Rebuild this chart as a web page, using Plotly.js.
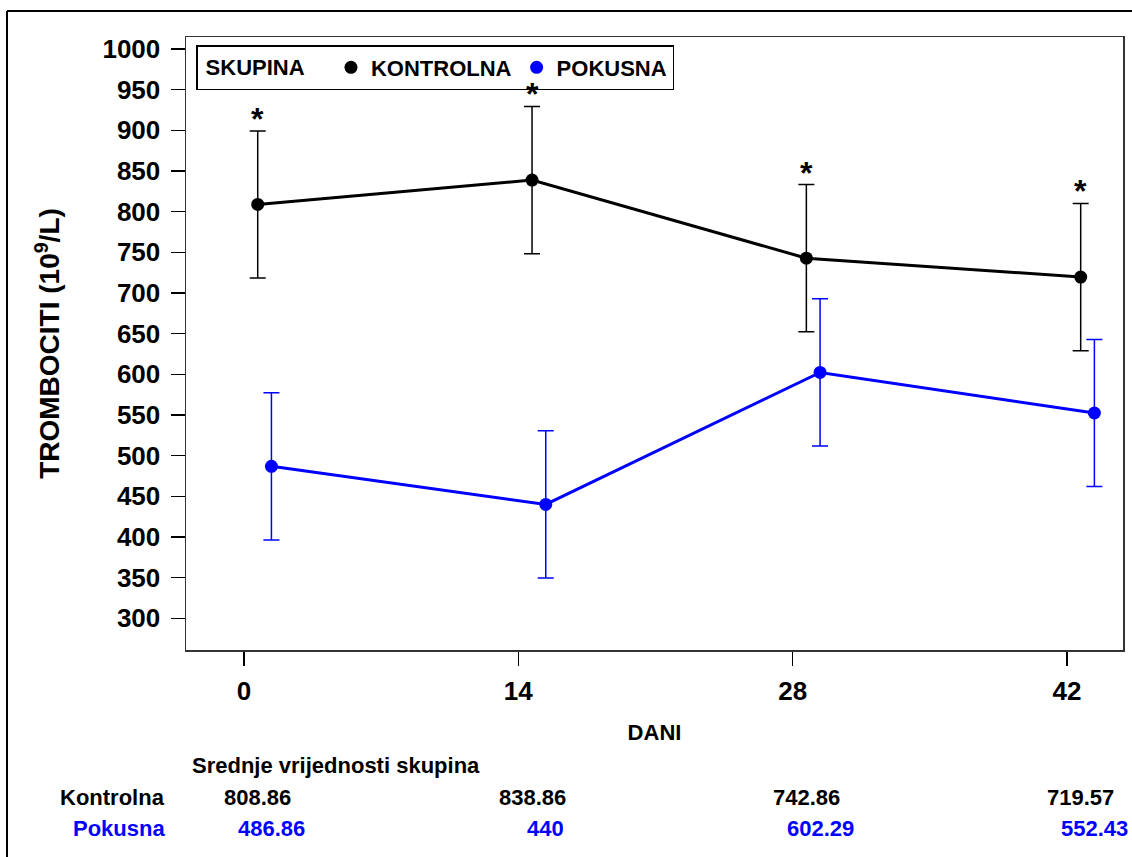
<!DOCTYPE html>
<html>
<head>
<meta charset="utf-8">
<script src="https://cdn.plot.ly/plotly-3.0.1.min.js"></script>
<style>
  html, body { margin: 0; padding: 0; background: #fff; }
  #chart { width: 1132px; height: 857px; }
</style>
</head>
<body>
<div id="chart"></div>
<script>
// ---- data ----
const days = [0, 14, 28, 42];
const dayTicks = ['0', '14', '28', '42'];
const kontrolnaMean = [808.86, 838.86, 742.86, 719.57];
const pokusnaMean = [486.86, 440, 602.29, 552.43];
const kontrolnaErr = [90.5, 90.5, 90.5, 90.5];
const pokusnaErr = [90.5, 90.5, 90.5, 90.5];
const kontrolnaLabels = ['808.86', '838.86', '742.86', '719.57'];
const pokusnaLabels = ['486.86', '440', '602.29', '552.43'];
const significant = [true, true, true, true];
const yTicks = [300, 350, 400, 450, 500, 550, 600, 650, 700, 750, 800, 850, 900, 950, 1000];

// cluster offsets (days) used by the original grouped display
const offK = 0.7, offP = 1.4;
const xK = days.map(d => d + offK);
const xP = days.map(d => d + offP);

const FONT = 'Liberation Sans, Arial, sans-serif';
const BLUE = '#0000ff';

const traces = [
  { x: xK, y: kontrolnaMean, mode: 'lines', line: { color: '#000', width: 3 },
    showlegend: false, hoverinfo: 'skip' },
  { x: xP, y: pokusnaMean, mode: 'lines', line: { color: BLUE, width: 3 },
    showlegend: false, hoverinfo: 'skip' },
  { x: xK, y: kontrolnaMean, mode: 'markers', name: 'KONTROLNA',
    marker: { color: '#000', size: 13 },
    error_y: { type: 'data', array: kontrolnaErr, visible: true, color: '#000', thickness: 1.5, width: 8 } },
  { x: xP, y: pokusnaMean, mode: 'markers', name: 'POKUSNA',
    marker: { color: BLUE, size: 13 },
    error_y: { type: 'data', array: pokusnaErr, visible: true, color: BLUE, thickness: 1.5, width: 8 } }
];

const annotations = [];
// significance stars
significant.forEach((s, i) => {
  if (!s) return;
  annotations.push({ x: xK[i], y: kontrolnaMean[i] + kontrolnaErr[i], xref: 'x', yref: 'y',
    text: '*', showarrow: false, yanchor: 'bottom', yshift: -8,
    font: { family: FONT, size: 32, color: '#000', weight: 700 } });
});
// table of means
const tableFont = (c) => ({ family: FONT, size: 22, color: c, weight: 700 });
annotations.push({ x: (190 - 186) / 937, xref: 'paper', y: -0.189, yref: 'paper',
  text: 'Srednje vrijednosti skupina', showarrow: false, xanchor: 'left', yanchor: 'middle',
  font: tableFont('#000') });
annotations.push({ x: (167 - 186) / 937, xref: 'paper', y: -0.2414, yref: 'paper', text: 'Kontrolna',
  showarrow: false, xanchor: 'right', yanchor: 'middle', font: tableFont('#000') });
annotations.push({ x: (167 - 186) / 937, xref: 'paper', y: -0.2904, yref: 'paper', text: 'Pokusna',
  showarrow: false, xanchor: 'right', yanchor: 'middle', font: tableFont(BLUE) });
kontrolnaLabels.forEach((t, i) => {
  annotations.push({ x: xK[i], xref: 'x', y: -0.2414, yref: 'paper', text: t, showarrow: false,
    xanchor: 'center', yanchor: 'middle', font: tableFont('#000') });
});
pokusnaLabels.forEach((t, i) => {
  annotations.push({ x: xP[i], xref: 'x', y: -0.2904, yref: 'paper', text: t, showarrow: false,
    xanchor: 'center', yanchor: 'middle', font: tableFont(BLUE) });
});

const layout = {
  width: 1132, height: 857,
  margin: { l: 186, r: 9, t: 37, b: 207 },
  paper_bgcolor: '#fff', plot_bgcolor: '#fff',
  font: { family: FONT, color: '#000' },
  showlegend: true,
  legend: {
    orientation: 'h', x: (196 - 186) / 937, y: (650 - 45) / 613, xanchor: 'left', yanchor: 'top',
    bordercolor: '#000', borderwidth: 1.5, bgcolor: '#fff',
    font: { family: FONT, size: 22, color: '#000', weight: 700 },
    title: { text: '&nbsp;SKUPINA&nbsp;&nbsp;&nbsp;', font: { family: FONT, size: 22, color: '#000', weight: 700 } }
  },
  xaxis: {
    range: [-2.96, 44.86], tickvals: days, ticktext: dayTicks,
    ticks: 'outside', ticklen: 14, tickwidth: 1.5, tickcolor: '#000',
    showline: true, linecolor: '#333', linewidth: 1.5, mirror: true,
    showgrid: false, zeroline: false, ticklabelstandoff: 3,
    tickfont: { family: FONT, size: 26, color: '#000', weight: 700 },
    title: { text: 'DANI', standoff: 20, font: { family: FONT, size: 22, color: '#000', weight: 700 } }
  },
  yaxis: {
    range: [261, 1014.8], tickvals: yTicks,
    ticks: 'outside', ticklen: 14, tickwidth: 1.5, tickcolor: '#000',
    showline: true, linecolor: '#333', linewidth: 1.5, mirror: true,
    showgrid: false, zeroline: false, ticklabelstandoff: 5,
    tickfont: { family: FONT, size: 26, color: '#000', weight: 700 },
    title: { text: 'TROMBOCITI (10<sup>9</sup>/L)', standoff: 34,
      font: { family: FONT, size: 28, color: '#000', weight: 700 } }
  },
  annotations: annotations,
  shapes: [
    { type: 'line', xref: 'paper', yref: 'paper', x0: (7 - 186) / 937, x1: 1.2,
      y0: (650 - 11) / 613, y1: (650 - 11) / 613, line: { color: '#000', width: 2 } },
    { type: 'line', xref: 'paper', yref: 'paper', x0: (7 - 186) / 937, x1: (7 - 186) / 937,
      y0: (650 - 11) / 613, y1: -0.5, line: { color: '#000', width: 2 } }
  ]
};

Plotly.newPlot('chart', traces, layout, { displayModeBar: false, staticPlot: true });
</script>
</body>
</html>
